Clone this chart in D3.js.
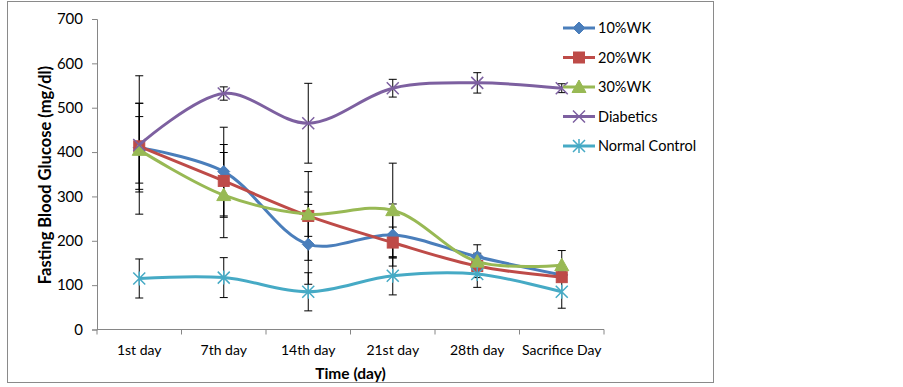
<!DOCTYPE html>
<html lang="en">
<head>
<meta charset="UTF-8" />
<title>Fasting Blood Glucose</title>
<style>
  body { margin: 0; background: #fff; }
  text { font-family: Lato, "Open Sans", sans-serif; fill: #000; }
</style>
</head>
<body>
<svg id="svg" width="903" height="387"></svg>
<script src="https://d3js.org/d3.v7.min.js"></script>
<script>
// Data
const categories = ["1st day", "7th day", "14th day", "21st day", "28th day", "Sacrifice Day"];
const yTicks = [0, 100, 200, 300, 400, 500, 600, 700];

const wk10 = [410, 356, 192, 213, 164, 123];
const wk10Err = [100, 100, 90, 70, 8, 8];
const wk20 = [413, 335, 256, 196, 143, 118];
const wk20Err = [97, 82, 100, 35, 48, 8];
const wk30 = [405, 303, 260, 269, 153, 145];
const wk30Err = [75, 96, 50, 106, 8, 33];
const diabetics = [416, 532, 465, 544, 556, 544];
const diabeticsErr = [156, 15, 90, 20, 23, 10];
const normal = [115, 117, 85, 121, 125, 85];
const normalErr = [44, 45, 43, 43, 8, 37];

const seriesNames = ["10%WK", "20%WK", "30%WK", "Diabetics", "Normal Control"];

const series = [
  { name: seriesNames[0], values: wk10, err: wk10Err, color: "#4a7ebb", marker: "diamond" },
  { name: seriesNames[1], values: wk20, err: wk20Err, color: "#be4b48", marker: "square" },
  { name: seriesNames[2], values: wk30, err: wk30Err, color: "#98b954", marker: "triangle" },
  { name: seriesNames[3], values: diabetics, err: diabeticsErr, color: "#7d60a0", marker: "x" },
  { name: seriesNames[4], values: normal, err: normalErr, color: "#46aac5", marker: "star" }
];

// Layout
const plot = { left: 97, right: 604, top: 19, bottom: 329.5 };
const svg = d3.select("#svg");

// outer frame
svg.append("rect")
  .attr("x", 7.5).attr("y", 1.5)
  .attr("width", 706).attr("height", 381)
  .attr("fill", "none").attr("stroke", "#8a8a8a").attr("stroke-width", 1);

// Scales
const x = d3.scaleBand().domain(categories).range([plot.left, plot.right]);
const y = d3.scaleLinear().domain([0, 700]).range([plot.bottom, plot.top]);
const cx = (i) => x(categories[i]) + x.bandwidth() / 2;

// Axes
const yAxis = d3.axisLeft(y).tickValues(yTicks).tickSize(5).tickPadding(9);
const gy = svg.append("g").attr("transform", `translate(${plot.left},0)`).call(yAxis);
gy.select(".domain").attr("stroke", "#868686");
gy.selectAll(".tick line").attr("stroke", "#868686");
gy.selectAll(".tick text").style("font-size", "15px").style("font-family", "Lato, sans-serif");

const xAxis = d3.axisBottom(x).tickSize(0).tickPadding(16);
const gx = svg.append("g").attr("transform", `translate(0,${plot.bottom})`).call(xAxis);
gx.select(".domain").attr("stroke", "#868686").attr("d", `M${plot.left},0H${plot.right}`);
gx.selectAll(".tick text").style("font-size", "14px").style("font-family", "Lato, sans-serif");
// tick marks between categories
gx.selectAll("line.sep")
  .data(d3.range(categories.length + 1))
  .join("line")
  .attr("class", "sep")
  .attr("x1", (i) => plot.left + i * x.bandwidth())
  .attr("x2", (i) => plot.left + i * x.bandwidth())
  .attr("y1", 0).attr("y2", 5)
  .attr("stroke", "#868686");

// Axis titles
svg.append("text")
  .attr("transform", `translate(51,175) rotate(-90)`)
  .attr("text-anchor", "middle")
  .style("font-size", "16.5px").style("font-weight", "bold")
  .text("Fasting Blood Glucose (mg/dl)");

svg.append("text")
  .attr("x", (plot.left + plot.right) / 2).attr("y", 379)
  .attr("text-anchor", "middle")
  .style("font-size", "15.5px").style("font-weight", "bold")
  .text("Time (day)");

// Error bars
const errG = svg.append("g");
series.forEach((s) => {
  s.values.forEach((v, i) => {
    const e = s.err[i];
    const g = errG.append("g").attr("stroke", "#000").attr("stroke-width", 1);
    g.append("line").attr("x1", cx(i)).attr("x2", cx(i)).attr("y1", y(v - e)).attr("y2", y(v + e));
    g.append("line").attr("x1", cx(i) - 4).attr("x2", cx(i) + 4).attr("y1", y(v + e)).attr("y2", y(v + e));
    g.append("line").attr("x1", cx(i) - 4).attr("x2", cx(i) + 4).attr("y1", y(v - e)).attr("y2", y(v - e));
  });
});

// Marker drawing
function drawMarker(g, type, px, py, color) {
  if (type === "diamond") {
    g.append("path").attr("d", `M${px},${py - 6}L${px + 6},${py}L${px},${py + 6}L${px - 6},${py}Z`)
      .attr("fill", color).attr("stroke", color);
  } else if (type === "square") {
    g.append("rect").attr("x", px - 5.5).attr("y", py - 5.5).attr("width", 11).attr("height", 11)
      .attr("fill", color).attr("stroke", color);
  } else if (type === "triangle") {
    g.append("path").attr("d", `M${px},${py - 7}L${px + 7},${py + 5.5}L${px - 7},${py + 5.5}Z`)
      .attr("fill", color).attr("stroke", color);
  } else if (type === "x") {
    g.append("path").attr("d", `M${px - 6},${py - 6}L${px + 6},${py + 6}M${px - 6},${py + 6}L${px + 6},${py - 6}`)
      .attr("stroke", color).attr("stroke-width", 1.5).attr("fill", "none");
  } else if (type === "star") {
    g.append("path").attr("d", `M${px - 6},${py - 6}L${px + 6},${py + 6}M${px - 6},${py + 6}L${px + 6},${py - 6}M${px},${py - 7}L${px},${py + 7}`)
      .attr("stroke", color).attr("stroke-width", 1.5).attr("fill", "none");
  }
}

// Lines
const line = d3.line()
  .x((d, i) => cx(i))
  .y((d) => y(d))
  .curve(d3.curveCatmullRom.alpha(0.5));

series.forEach((s) => {
  const g = svg.append("g");
  g.append("path")
    .attr("d", line(s.values))
    .attr("fill", "none")
    .attr("stroke", s.color)
    .attr("stroke-width", 3);
  s.values.forEach((v, i) => drawMarker(g, s.marker, cx(i), y(v), s.color));
});

// Legend
const legend = svg.append("g");
series.forEach((s, i) => {
  const ly = 28 + i * 29.5;
  const g = legend.append("g");
  g.append("line").attr("x1", 563).attr("x2", 595).attr("y1", ly).attr("y2", ly)
    .attr("stroke", s.color).attr("stroke-width", 3);
  drawMarker(g, s.marker, 579, ly, s.color);
  g.append("text").attr("x", 598).attr("y", ly + 5)
    .style("font-size", "14.5px").text(s.name);
});
</script>
</body>
</html>
